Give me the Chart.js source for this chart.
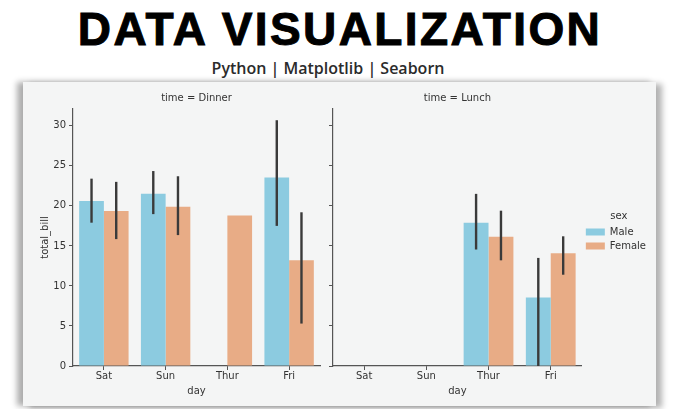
<!DOCTYPE html>
<html>
<head>
<meta charset="utf-8">
<script src="https://cdn.jsdelivr.net/npm/chart.js@4"></script>
<style>
  html, body { margin: 0; padding: 0; background: #fff; width: 680px; height: 409px; overflow: hidden; }
  .title {
    position: absolute; left: 0; top: 6px; width: 680px; text-align: center;
    font: bold 46px "Liberation Sans", Arial, sans-serif; line-height: 46px;
    letter-spacing: 2.4px; color: #000; -webkit-text-stroke: 1px #000;
  }
  .subtitle {
    position: absolute; left: -12px; top: 60px; width: 680px; text-align: center;
    font: 600 16px "Open Sans", sans-serif; line-height: 16px; color: #2b2b2b;
  }
  .frame {
    position: absolute; left: 23px; top: 82px; width: 633px; height: 324px;
    background: #f4f5f5;
    box-shadow: -6px 0 6px rgba(0,0,0,0.32), 6px 2px 6px rgba(0,0,0,0.3);
  }
  canvas { position: absolute; top: 0; }
</style>
</head>
<body>
<div class="title">DATA VISUALIZATION</div>
<div class="subtitle">Python | Matplotlib | Seaborn</div>
<div class="frame">
  <canvas id="dinner" width="302" height="324" style="left:0"></canvas>
  <canvas id="lunch" width="331" height="324" style="left:302px"></canvas>
</div>
<script>
// ==== Data ====
const days = ["Sat", "Sun", "Thur", "Fri"];
const yTicks = [0, 5, 10, 15, 20, 25, 30];
const yMax = 32.1;

// time = Dinner
const dinnerMale = [20.6, 21.5, null, 23.55];
const dinnerMaleLo = [17.9, 18.97, null, 17.5];
const dinnerMaleHi = [23.4, 24.35, null, 30.7];
const dinnerFemale = [19.35, 19.9, 18.8, 13.2];
const dinnerFemaleLo = [15.85, 16.35, null, 5.3];
const dinnerFemaleHi = [23.0, 23.7, null, 19.2];

// time = Lunch
const lunchMale = [null, null, 17.9, 8.57];
const lunchMaleLo = [null, null, 14.55, 0];
const lunchMaleHi = [null, null, 21.5, 13.5];
const lunchFemale = [null, null, 16.15, 14.07];
const lunchFemaleLo = [null, null, 13.2, 11.4];
const lunchFemaleHi = [null, null, 19.4, 16.2];

const maleColor = "#8ccbe0";
const femaleColor = "#e8ac86";
const axisColor = "#555555";
const textColor = "#333333";
const font = { family: "DejaVu Sans", size: 10 };

// ==== Error bar plugin ====
const errorBars = {
  id: "errorBars",
  afterDatasetsDraw(chart) {
    const { ctx } = chart;
    const y = chart.scales.y;
    ctx.save();
    ctx.strokeStyle = "#3a3a3a";
    ctx.lineWidth = 2.4;
    chart.data.datasets.forEach((ds, i) => {
      chart.getDatasetMeta(i).data.forEach((bar, j) => {
        const lo = ds.errLo[j], hi = ds.errHi[j];
        if (lo == null || hi == null) return;
        ctx.beginPath();
        ctx.moveTo(bar.x, y.getPixelForValue(lo));
        ctx.lineTo(bar.x, y.getPixelForValue(hi));
        ctx.stroke();
      });
    });
    ctx.restore();
  }
};

function makeChart(id, panelTitle, male, maleLo, maleHi, female, femaleLo, femaleHi, isLeft) {
  return new Chart(document.getElementById(id), {
    type: "bar",
    data: {
      labels: days,
      datasets: [
        { label: "Male", data: male, errLo: maleLo, errHi: maleHi, backgroundColor: maleColor, borderWidth: 0 },
        { label: "Female", data: female, errLo: femaleLo, errHi: femaleHi, backgroundColor: femaleColor, borderWidth: 0 }
      ]
    },
    options: {
      responsive: false,
      animation: false,
      categoryPercentage: 0.8,
      barPercentage: 1.0,
      layout: { padding: { left: 0, right: isLeft ? 5 : 0, top: 0, bottom: 0 } },
      plugins: {
        tooltip: { enabled: false },
        title: {
          display: true, text: panelTitle, fullSize: false,
          color: textColor, font: { ...font, weight: "normal" },
          padding: { top: 10, bottom: 5 }
        },
        legend: isLeft ? { display: false } : {
          display: true, position: "right", align: "start", fullSize: false,
          title: { display: true, text: "sex", color: textColor, font: font, padding: { top: 102, bottom: 0 } },
          labels: { color: textColor, font: font, boxWidth: 19, boxHeight: 7, padding: 4 }
        }
      },
      scales: {
        x: {
          border: { display: true, color: axisColor, width: 1.2 },
          grid: { display: true, drawOnChartArea: false, drawTicks: true, tickLength: 4, color: axisColor, offset: false },
          ticks: { color: textColor, font: font, padding: 0 },
          title: { display: true, text: "day", color: textColor, font: font, padding: { top: 0, bottom: 9 } },
          afterFit(scale) { scale.height = 40; }
        },
        y: {
          min: 0, max: yMax,
          afterBuildTicks(scale) { scale.ticks = yTicks.map(v => ({ value: v })); },
          border: { display: true, color: axisColor, width: 1.2 },
          grid: { display: true, drawOnChartArea: false, drawTicks: true, tickLength: 4, color: axisColor },
          ticks: { display: isLeft, color: textColor, font: font, padding: 3 },
          title: { display: isLeft, text: "total_bill", color: textColor, font: font, padding: { top: 16, bottom: 0 } },
          afterFit(scale) { scale.width = isLeft ? 50 : 8; }
        }
      }
    },
    plugins: [errorBars]
  });
}

makeChart("dinner", "time = Dinner", dinnerMale, dinnerMaleLo, dinnerMaleHi, dinnerFemale, dinnerFemaleLo, dinnerFemaleHi, true);
makeChart("lunch", "time = Lunch", lunchMale, lunchMaleLo, lunchMaleHi, lunchFemale, lunchFemaleLo, lunchFemaleHi, false);
</script>
</body>
</html>
